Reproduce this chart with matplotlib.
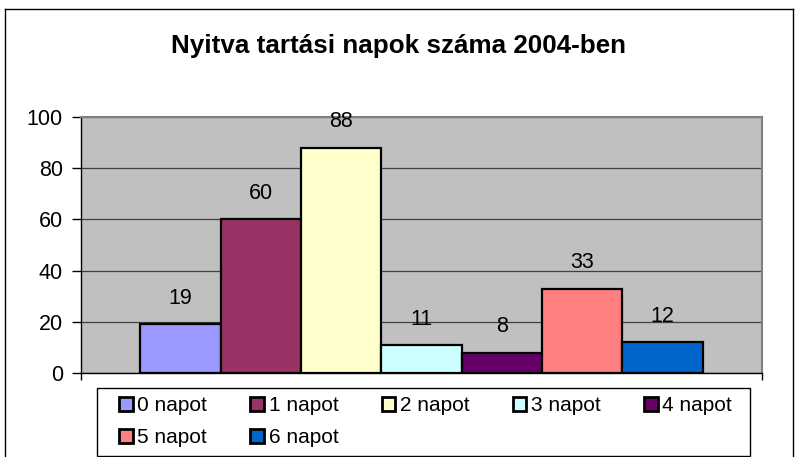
import matplotlib
matplotlib.use("Agg")
import matplotlib.pyplot as plt
from matplotlib.patches import Patch, Rectangle
from matplotlib.lines import Line2D

plt.rcParams['font.family'] = ['Liberation Sans', 'DejaVu Sans']

title = "Nyitva tartási napok száma 2004-ben"
categories = ["0 napot", "1 napot", "2 napot", "3 napot", "4 napot", "5 napot", "6 napot"]
values = [19, 60, 88, 11, 8, 33, 12]
colors = ["#9999FF", "#993366", "#FFFFCC", "#CCFFFF", "#660066", "#FF8080", "#0066CC"]
yticks = [0, 20, 40, 60, 80, 100]

W, H = 797, 457
fig = plt.figure(figsize=(W / 100, H / 100), dpi=100)
fig.patch.set_facecolor("white")

def fx(px):
    return px / W

def fy(py):
    return 1 - py / H

ax = fig.add_axes([fx(81), fy(373), fx(762) - fx(81), fy(117) - fy(373)])
ax.set_facecolor("#C0C0C0")

for i, (v, c) in enumerate(zip(values, colors)):
    ax.bar(i, v, width=1.0, color=c, edgecolor="black", linewidth=1.6, zorder=3, label=categories[i])
    ax.annotate(str(v), (i, v), xytext=(0, 11), textcoords="offset points",
                ha="center", va="bottom", fontsize=15.5, color="black", zorder=4,
                annotation_clip=False)

gap = 0.741
ax.set_xlim(-0.5 - gap, len(values) - 0.5 + gap)
ax.set_ylim(0, 100)
ax.set_yticks(yticks)
ax.set_yticklabels([str(t) for t in yticks], fontsize=15.5)
ax.yaxis.grid(True, color="#404040", linewidth=0.9, zorder=1)
ax.set_axisbelow(True)
ax.tick_params(axis="y", direction="out", length=6.5, width=1, pad=6.5, colors="black")
ax.set_xticks([-0.5 - gap, len(values) - 0.5 + gap])
ax.set_xticklabels([])
ax.tick_params(axis="x", direction="out", length=5, width=1, colors="black")

for s in ["left", "bottom"]:
    ax.spines[s].set_color("black")
    ax.spines[s].set_linewidth(1.0)
for s in ["top", "right"]:
    ax.spines[s].set_color("#808080")
    ax.spines[s].set_linewidth(1.5)

fig.text(0.5, fy(46), title, ha="center", va="center", fontsize=18.7, fontweight="bold")

# outer chart frame (bottom cut off)
for xs, ys in [([5, 5], [457, 9]), ([5, 793], [9, 9]), ([793, 793], [9, 457])]:
    fig.add_artist(Line2D([fx(x) for x in xs], [fy(y) for y in ys], color="black", linewidth=1.0))

# legend frame
fig.add_artist(Rectangle((fx(97), fy(456)), fx(750) - fx(97), fy(388) - fy(456),
                         facecolor="white", edgecolor="black", linewidth=1.0, zorder=0))

handles = [Patch(facecolor=c, edgecolor="black", linewidth=2.0) for c in colors]
order = [0, 5, 1, 6, 2, 3, 4]
leg = fig.legend([handles[i] for i in order], [categories[i] for i in order],
                 loc="upper left", bbox_to_anchor=(fx(119), fy(396)),
                 ncol=5, frameon=False, fontsize=15, borderpad=0, borderaxespad=0,
                 handlelength=0.66, handleheight=0.66, handletextpad=0.22,
                 columnspacing=2.07, labelspacing=0.62)

fig.savefig("out.png", dpi=100)
